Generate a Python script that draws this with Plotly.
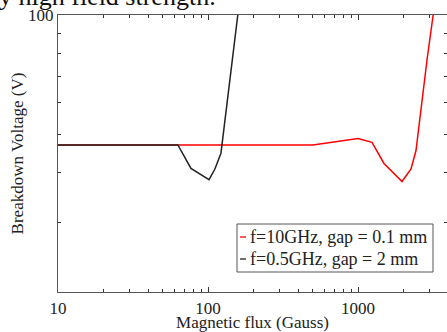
import plotly.graph_objects as go

# Data
red_name = "f=10GHz, gap = 0.1 mm"
red_flux = [10, 500, 1000, 1240, 1490, 1965, 2256, 2436, 2884, 3170]
red_volt = [47, 47, 48.8, 47.7, 42.2, 38.0, 40.9, 45.5, 77, 100]

black_name = "f=0.5GHz, gap = 2 mm"
black_flux = [10, 63, 77, 101.6, 111, 122, 158]
black_volt = [47, 47, 41.0, 38.4, 40.8, 44.8, 100]

x_major = [10, 100, 1000]
x_major_text = ["10", "100", "1000"]
x_minor = [20, 30, 40, 50, 60, 70, 80, 90, 200, 300, 400, 500, 600, 700, 800, 900, 2000, 3000]
y_major = [100]
y_major_text = ["100"]
y_minor = [30, 40, 50, 60, 70, 80, 90]

FONT = "Liberation Serif"
AXC = "#333333"
TXT = "#222222"
FS = 17

# plot area in pixels (for placing the hand-drawn legend box)
L, T, W, H = 58, 15, 389, 277
def px(x):
    return (x - L) / W
def py(y):
    return 1 - (y - T) / H

fig = go.Figure()
fig.add_trace(go.Scatter(x=red_flux, y=red_volt, mode="lines", name=red_name,
                         line=dict(color="#ff0000", width=1.5)))
fig.add_trace(go.Scatter(x=black_flux, y=black_volt, mode="lines", name=black_name,
                         line=dict(color="#222222", width=1.5)))

fig.update_layout(
    width=447, height=332,
    margin=dict(l=L, r=447 - L - W, t=T, b=332 - T - H, autoexpand=False),
    paper_bgcolor="white", plot_bgcolor="white",
    font=dict(family=FONT, size=FS, color=TXT),
    showlegend=False,
    xaxis=dict(type="log", range=[1, 1 + W / 150], automargin=False,
               showline=True, linecolor="#555555", linewidth=1.3, mirror="ticks",
               showgrid=False, zeroline=False,
               ticks="inside", ticklen=5, tickcolor=AXC, tickwidth=1,
               tickmode="array", tickvals=x_major, ticktext=x_major_text,
               minor=dict(ticks="inside", ticklen=3, tickcolor=AXC, tickwidth=1,
                          tickmode="array", tickvals=x_minor, showgrid=False),
               title=dict(text="Magnetic flux (Gauss)", standoff=5,
                          font=dict(family=FONT, size=FS, color=TXT)),
               tickfont=dict(family=FONT, size=FS, color=TXT)),
    yaxis=dict(type="log", range=[1.30103, 2], automargin=False,
               showline=True, linecolor="#555555", linewidth=1.3, mirror="ticks",
               showgrid=False, zeroline=False,
               ticks="inside", ticklen=4, tickcolor=AXC, tickwidth=1,
               tickmode="array", tickvals=y_major, ticktext=y_major_text,
               minor=dict(ticks="inside", ticklen=3, tickcolor=AXC, tickwidth=1,
                          tickmode="array", tickvals=y_minor, showgrid=False),
               title=dict(text="Breakdown Voltage (V)", standoff=0,
                          font=dict(family=FONT, size=FS, color=TXT)),
               tickfont=dict(family=FONT, size=FS, color=TXT)),
)

# Legend box drawn as in the reference (short line samples)
fig.add_shape(type="rect", xref="paper", yref="paper",
              x0=px(237), x1=px(433), y0=py(272), y1=py(224),
              line=dict(color="#555555", width=1), fillcolor="white", layer="above")
for i, (name, col) in enumerate([(red_name, "#ff0000"), (black_name, "#222222")]):
    yc = 237 + 22 * i
    fig.add_shape(type="line", xref="paper", yref="paper",
                  x0=px(240), x1=px(246), y0=py(yc), y1=py(yc),
                  line=dict(color=col, width=1.3), layer="above")
    fig.add_annotation(text=name, xref="paper", yref="paper",
                       x=px(248), xanchor="left", y=py(yc), yanchor="middle",
                       showarrow=False, font=dict(family=FONT, size=18, color=TXT))

# Fragment of the surrounding page text, clipped at the top edge
fig.add_annotation(text="y high field strength.", xref="paper", yref="paper",
                   x=px(-3), xanchor="left", y=1 + 2 / H, yanchor="bottom",
                   showarrow=False, font=dict(family=FONT, size=26, color="#111111"))

fig.write_html("out.html", config={"displayModeBar": False},
               post_script="document.body.style.margin='0px';document.body.style.padding='0px';")
